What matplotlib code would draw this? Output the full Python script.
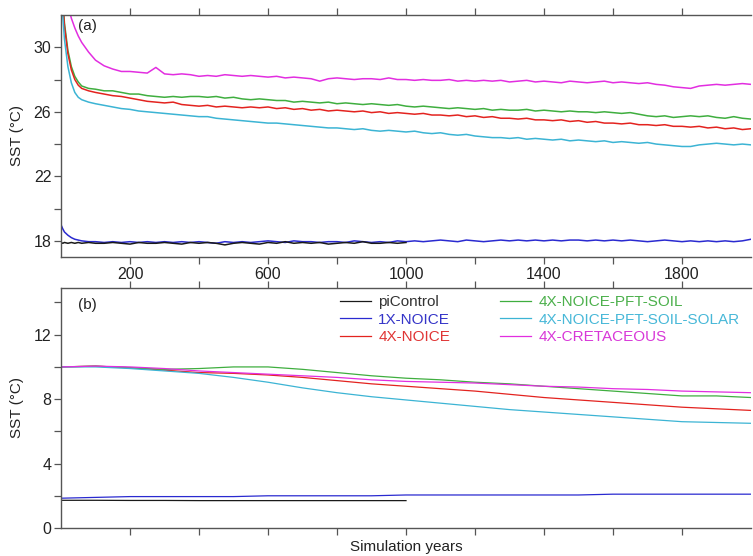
import matplotlib
matplotlib.use("Agg")
import matplotlib.pyplot as plt

plt.rcParams['font.family'] = ['Liberation Sans', 'DejaVu Sans']

# ---- data: panel (a), SST time series ----
yrs_a = [0, 5, 10, 20, 30, 40, 50, 60, 80, 100] + list(range(125, 2001, 25))

sst_cret = [35.5, 34.6, 33.8, 32.6, 31.8, 31.2, 30.7, 30.3, 29.7, 29.2,
            28.85, 28.65, 28.5, 28.5, 28.45, 28.4, 28.75, 28.35,
            28.3, 28.35, 28.3, 28.2, 28.25, 28.2, 28.3, 28.25,
            28.2, 28.25, 28.2, 28.15, 28.2, 28.1, 28.15, 28.1,
            28.05, 27.9, 28.05, 28.1, 28.05, 28.0, 28.05, 28.05,
            28.0, 28.1, 28.0, 28.0, 27.95, 28.0, 27.95, 27.95,
            28.0, 27.9, 27.95, 27.9, 27.95, 27.9, 27.95, 27.85,
            27.9, 27.95, 27.85, 27.9, 27.85, 27.8, 27.9, 27.85,
            27.8, 27.85, 27.9, 27.8, 27.85, 27.8, 27.75, 27.8,
            27.7, 27.65, 27.55, 27.5, 27.45, 27.6, 27.65, 27.7,
            27.65, 27.7, 27.75, 27.7]

sst_pft = [35.0, 33.0, 31.5, 29.8, 28.8, 28.2, 27.85, 27.6, 27.45, 27.4,
           27.3, 27.3, 27.2, 27.1, 27.1, 27.0, 26.95, 26.9,
           26.95, 26.9, 26.95, 26.95, 26.9, 26.95, 26.85, 26.9,
           26.8, 26.75, 26.8, 26.75, 26.7, 26.7, 26.6, 26.65,
           26.6, 26.55, 26.6, 26.5, 26.55, 26.5, 26.45, 26.5,
           26.45, 26.4, 26.45, 26.35, 26.3, 26.35, 26.3, 26.25,
           26.2, 26.25, 26.2, 26.15, 26.2, 26.1, 26.15, 26.1,
           26.1, 26.15, 26.05, 26.1, 26.05, 26.0, 26.05, 26.0,
           26.0, 25.95, 26.0, 25.95, 25.9, 25.95, 25.85, 25.75,
           25.7, 25.75, 25.65, 25.7, 25.75, 25.7, 25.75, 25.65,
           25.6, 25.7, 25.6, 25.55]

sst_4x = [35.0, 32.9, 31.3, 29.6, 28.6, 28.0, 27.65, 27.45, 27.3, 27.2,
          27.1, 27.0, 26.95, 26.85, 26.75, 26.65, 26.6, 26.55,
          26.6, 26.45, 26.4, 26.35, 26.4, 26.3, 26.35, 26.3,
          26.25, 26.3, 26.25, 26.3, 26.2, 26.25, 26.15, 26.2,
          26.1, 26.15, 26.05, 26.1, 26.05, 26.0, 26.05, 25.95,
          26.0, 25.9, 25.95, 25.9, 25.85, 25.9, 25.8, 25.8,
          25.75, 25.8, 25.7, 25.75, 25.65, 25.7, 25.6, 25.6,
          25.55, 25.6, 25.5, 25.5, 25.45, 25.5, 25.4, 25.45,
          25.35, 25.4, 25.3, 25.3, 25.25, 25.3, 25.2, 25.2,
          25.15, 25.2, 25.1, 25.1, 25.05, 25.1, 25.0, 25.05,
          24.95, 25.0, 24.9, 24.95]

sst_solar = [34.0, 32.0, 30.5, 28.8, 27.8, 27.2, 26.9, 26.75, 26.6, 26.5,
             26.4, 26.3, 26.2, 26.15, 26.05, 26.0, 25.95, 25.9,
             25.85, 25.8, 25.75, 25.7, 25.7, 25.6, 25.55, 25.5,
             25.45, 25.4, 25.35, 25.3, 25.3, 25.25, 25.2, 25.15,
             25.1, 25.05, 25.0, 25.0, 24.95, 24.9, 24.95, 24.85,
             24.8, 24.85, 24.8, 24.75, 24.8, 24.7, 24.65, 24.7,
             24.6, 24.55, 24.6, 24.5, 24.45, 24.4, 24.4, 24.35,
             24.4, 24.3, 24.35, 24.3, 24.25, 24.3, 24.2, 24.25,
             24.2, 24.15, 24.2, 24.1, 24.15, 24.1, 24.05, 24.1,
             24.0, 23.95, 23.9, 23.85, 23.85, 23.95, 24.0, 24.05,
             24.0, 23.95, 24.0, 23.95]

sst_1x = [19.0, 18.75, 18.55, 18.35, 18.2, 18.1, 18.05, 18.0, 17.95, 17.95,
          17.9, 17.95, 17.9, 17.95, 17.9, 17.95, 17.9, 17.95,
          17.9, 17.95, 17.9, 17.95, 17.9, 17.85, 17.95, 17.9,
          17.95, 17.9, 17.95, 18.0, 17.95, 17.9, 18.0, 17.95,
          17.95, 17.9, 17.95, 17.95, 17.9, 18.0, 17.95, 17.9,
          17.95, 17.9, 18.0, 17.95, 18.0, 17.95, 18.0, 18.05,
          18.0, 17.95, 18.05, 18.0, 17.95, 18.0, 18.05, 18.0,
          18.05, 18.0, 18.05, 18.0, 18.05, 18.0, 18.05, 18.05,
          18.0, 18.05, 18.0, 18.05, 18.0, 18.05, 18.0, 17.95,
          18.0, 18.05, 18.0, 17.95, 18.0, 17.95, 18.0, 17.95,
          18.0, 17.95, 18.0, 18.1]

sst_pi = [17.9, 17.85, 17.9, 17.85, 17.9, 17.85, 17.9, 17.85, 17.9, 17.85,
          17.85, 17.9, 17.85, 17.8, 17.9, 17.85, 17.85, 17.9,
          17.85, 17.8, 17.9, 17.85, 17.9, 17.85, 17.75, 17.85,
          17.9, 17.85, 17.8, 17.9, 17.85, 17.95, 17.85, 17.9,
          17.85, 17.9, 17.8, 17.85, 17.9, 17.85, 17.95, 17.85,
          17.85, 17.9, 17.85, 17.9]
yrs_pi = [y for y in yrs_a if y <= 1000]

# ---- data: panel (b), deep-ocean SST ----
yrs_b = list(range(0, 2001, 100))
deep_cret = [10.0, 10.05, 10.0, 9.9, 9.75, 9.65, 9.55, 9.45, 9.35, 9.2, 9.1,
             9.05, 9.0, 8.9, 8.8, 8.75, 8.65, 8.6, 8.5, 8.45, 8.4]
deep_pft = [10.0, 10.05, 9.95, 9.85, 9.9, 10.0, 10.0, 9.85, 9.65, 9.45, 9.3,
            9.2, 9.05, 8.95, 8.8, 8.65, 8.5, 8.35, 8.2, 8.2, 8.1]
deep_4x = [10.0, 10.05, 9.95, 9.8, 9.65, 9.6, 9.5, 9.35, 9.15, 8.95, 8.8,
           8.65, 8.5, 8.3, 8.1, 7.95, 7.8, 7.65, 7.5, 7.4, 7.3]
deep_solar = [10.0, 10.0, 9.9, 9.75, 9.6, 9.35, 9.05, 8.7, 8.4, 8.15, 7.95,
              7.75, 7.55, 7.35, 7.2, 7.05, 6.9, 6.75, 6.6, 6.55, 6.5]
deep_1x = [1.85, 1.9, 1.95, 1.95, 1.95, 1.95, 2.0, 2.0, 2.0, 2.0, 2.05,
           2.05, 2.05, 2.05, 2.05, 2.05, 2.1, 2.1, 2.1, 2.1, 2.1]
yrs_b_pi = [y for y in yrs_b if y <= 1000]
deep_pi = [1.72, 1.72, 1.71, 1.71, 1.7, 1.7, 1.7, 1.7, 1.7, 1.7, 1.7]

labels = ['piControl', '1X-NOICE', '4X-NOICE', '4X-NOICE-PFT-SOIL',
          '4X-NOICE-PFT-SOIL-SOLAR', '4X-CRETACEOUS']
colors = ['#1a1a1a', '#2a2ad0', '#e3231f', '#3fae3f', '#3cb4d4', '#e22ee0']
text_colors = ['#333333', '#3535c8', '#e03535', '#4cb04c', '#48b8d8', '#d838d8']

W, H = 753, 556
fig = plt.figure(figsize=(W / 100, H / 100), dpi=100)
ax_a = fig.add_axes([61 / W, 1 - 257 / H, 690 / W, 242 / H])
ax_b = fig.add_axes([61 / W, 1 - 528 / H, 690 / W, 240 / H])

# panel (a)
ax_a.plot(yrs_a, sst_1x, color=colors[1], lw=1.1)
ax_a.plot(yrs_pi, sst_pi, color=colors[0], lw=1.1)
ax_a.plot(yrs_a, sst_cret, color=colors[5], lw=1.1)
ax_a.plot(yrs_a, sst_pft, color=colors[3], lw=1.1)
ax_a.plot(yrs_a, sst_4x, color=colors[2], lw=1.1)
ax_a.plot(yrs_a, sst_solar, color=colors[4], lw=1.1)
ax_a.set_ylim(17, 32)
ax_a.set_yticks([18, 20, 22, 24, 26, 28, 30])
ax_a.set_yticklabels(['18', '', '22', '', '26', '', '30'])

# panel (b)
series_b = [(yrs_b_pi, deep_pi), (yrs_b, deep_1x), (yrs_b, deep_4x),
            (yrs_b, deep_pft), (yrs_b, deep_solar), (yrs_b, deep_cret)]
for (xs, ys), lab, c in zip(series_b, labels, colors):
    ax_b.plot(xs, ys, color=c, lw=0.9, label=lab)
ax_b.set_ylim(0, 14.9)
ax_b.set_yticks([0, 2, 4, 6, 8, 10, 12, 14])
ax_b.set_yticklabels(['0', '', '4', '', '8', '', '12', ''])

xt = list(range(200, 1801, 200))
for ax in (ax_a, ax_b):
    ax.set_xlim(0, 2000)
    ax.set_xticks(xt)
    ax.spines['right'].set_visible(False)
    for s in ('left', 'top', 'bottom'):
        ax.spines[s].set_color('#555555')
        ax.spines[s].set_linewidth(1.0)
    ax.tick_params(direction='out', length=5, width=0.9, color='#555555',
                   top=True, labelsize=11.5, pad=2, labelcolor='#222222')
    ax.set_ylabel('SST (°C)', fontsize=11, color='#222222', labelpad=7)

ax_a.set_xticklabels(['200', '', '600', '', '1000', '', '1400', '', '1800'])
ax_b.set_xticklabels([''] * len(xt))
ax_b.set_xlabel('Simulation years', fontsize=11, color='#222222', labelpad=2)

ax_a.text(0.025, 0.985, '(a)', transform=ax_a.transAxes, fontsize=11,
          va='top', ha='left', color='#222222')
ax_b.text(0.025, 0.96, '(b)', transform=ax_b.transAxes, fontsize=11,
          va='top', ha='left', color='#222222')

leg = ax_b.legend(ncol=2, frameon=False, fontsize=11, loc='upper left',
                  bbox_to_anchor=(340 / W, 1 - 295 / H),
                  bbox_transform=fig.transFigure, borderpad=0,
                  borderaxespad=0, handlelength=2.0, handletextpad=0.5,
                  columnspacing=3.3, labelspacing=0.23)
for t, c in zip(leg.get_texts(), text_colors):
    t.set_color(c)

fig.savefig('out.png', dpi=100)
